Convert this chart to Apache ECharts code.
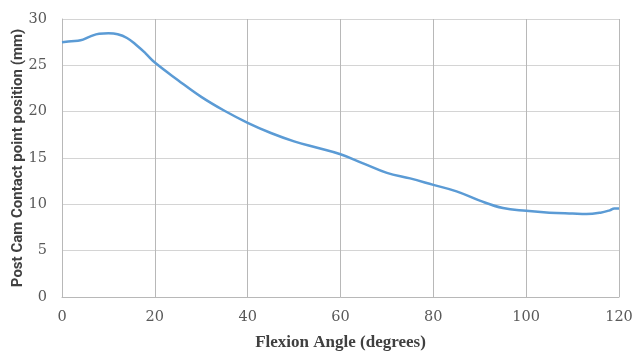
<!DOCTYPE html>
<html>
<head>
<meta charset="utf-8">
<script src="https://cdn.jsdelivr.net/npm/echarts@6/dist/echarts.min.js"></script>
<style>
  html, body { margin: 0; padding: 0; background: #fff; }
  #chart { width: 634px; height: 352px; }
</style>
</head>
<body>
<div id="chart"></div>
<script>
// flexion angle (deg) and post-cam contact position (mm)
var angles = [0, 2, 4, 6, 8, 10, 12, 14, 16, 18, 20, 25, 30, 35, 40, 45, 50, 55, 60, 65, 70, 75, 80, 85, 90, 95, 100, 105, 110, 113, 116, 118, 119, 120];
var contact = [27.5, 27.6, 27.7, 28.1, 28.4, 28.45, 28.35, 27.95, 27.2, 26.3, 25.3, 23.4, 21.6, 20.1, 18.8, 17.7, 16.8, 16.1, 15.4, 14.4, 13.4, 12.8, 12.1, 11.4, 10.4, 9.6, 9.3, 9.1, 9.0, 8.95, 9.1, 9.35, 9.55, 9.55];

var xTicks = [0, 20, 40, 60, 80, 100, 120];
var yTicks = [0, 5, 10, 15, 20, 25, 30];

var points = angles.map(function (a, i) { return [a, contact[i]]; });

var chart = echarts.init(document.getElementById('chart'));
var vGrid = '#b8b8b8';
var hGrid = '#d4d4d4';
var tickFont = '"DejaVu Serif", serif';

chart.setOption({
  animation: false,
  grid: { left: 62, right: 15, top: 19, bottom: 55, containLabel: false, outerBoundsMode: 'none' },
  xAxis: {
    type: 'value',
    min: xTicks[0],
    max: xTicks[xTicks.length - 1],
    interval: 20,
    name: 'Flexion Angle (degrees)',
    nameLocation: 'middle',
    nameGap: 37,
    nameMoveOverlap: false,
    nameTextStyle: { fontFamily: '"Liberation Serif", serif', fontWeight: 'bold', fontSize: 17, color: '#404040' },
    axisLine: { lineStyle: { color: vGrid } },
    axisTick: { show: false },
    axisLabel: { fontFamily: tickFont, fontSize: 14.5, color: '#595959', margin: 13 },
    splitLine: { show: true, lineStyle: { color: vGrid, width: 1 } }
  },
  yAxis: {
    type: 'value',
    min: yTicks[0],
    max: yTicks[yTicks.length - 1],
    interval: 5,
    name: 'Post Cam Contact point position (mm)',
    nameLocation: 'middle',
    nameGap: 36,
    nameMoveOverlap: false,
    nameTextStyle: { fontFamily: 'Roboto, sans-serif', fontWeight: 'bold', fontSize: 15, color: '#404040' },
    axisLine: { show: true, lineStyle: { color: vGrid } },
    axisTick: { show: false },
    axisLabel: { fontFamily: tickFont, fontSize: 14.5, color: '#595959', margin: 15 },
    splitLine: { show: true, lineStyle: { color: hGrid, width: 1 } }
  },
  series: [{
    type: 'line',
    data: points,
    smooth: 0.4,
    showSymbol: false,
    lineStyle: { color: '#5b9bd5', width: 2.5 }
  }]
});
</script>
</body>
</html>
